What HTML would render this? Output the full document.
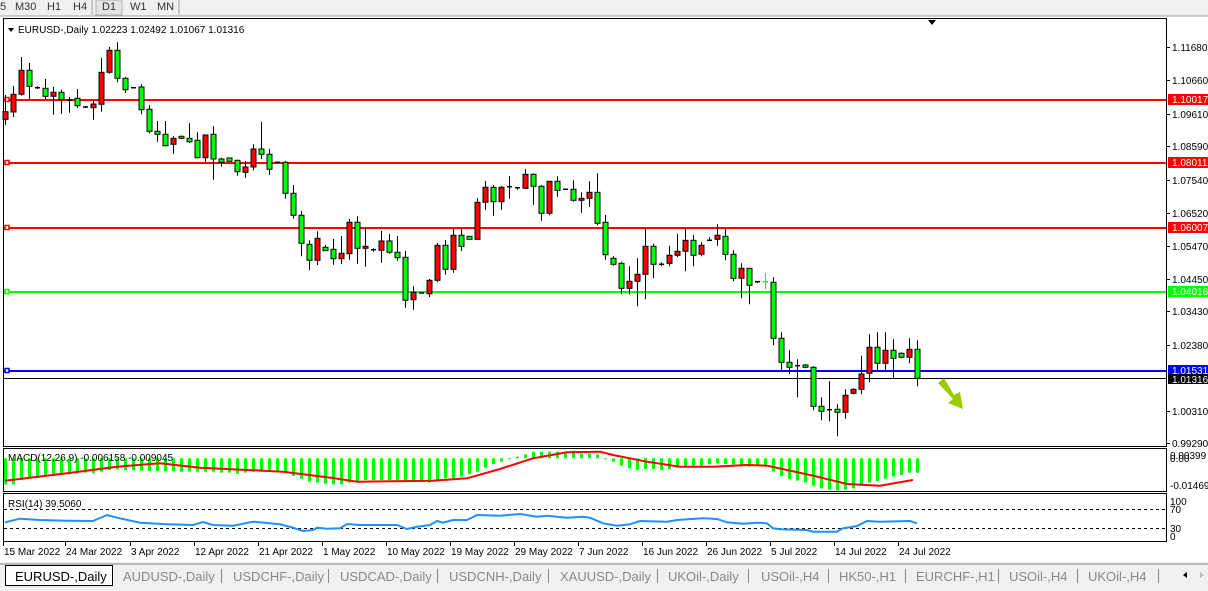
<!DOCTYPE html>
<html><head><meta charset="utf-8"><style>
body{margin:0;width:1208px;height:591px;overflow:hidden;background:#fff;font-family:"Liberation Sans",Arial,sans-serif;}
svg{position:absolute;left:0;top:0}
</style></head><body>
<svg id="s" width="1208" height="591" xmlns="http://www.w3.org/2000/svg" font-family="Liberation Sans, Arial, sans-serif">
<rect x="0" y="0" width="1208" height="16" fill="#f0f0f0"/>
<line x1="0" y1="16" x2="1208" y2="16" stroke="#a0a0a0"/>
<rect x="96" y="0" width="26" height="15" fill="#e4e4e4" stroke="#b0b0b0"/>
<line x1="92" y1="0" x2="92" y2="15" stroke="#a0a0a0"/>
<line x1="179" y1="0" x2="179" y2="15" stroke="#a0a0a0"/>
<g font-size="11" fill="#333">
<text x="0" y="10">5</text><text x="15" y="10">M30</text><text x="47" y="10">H1</text><text x="73" y="10">H4</text>
<text x="102" y="10">D1</text><text x="130" y="10">W1</text><text x="157" y="10">MN</text></g>
<rect x="0" y="17" width="1208" height="530" fill="#fff"/>
<rect x="3.5" y="18.5" width="1163" height="428" fill="none" stroke="#000"/>
<rect x="3.5" y="448.5" width="1163" height="43" fill="none" stroke="#000"/>
<rect x="3.5" y="493.5" width="1163" height="48" fill="none" stroke="#000"/>
<polygon points="928,20 936,20 932,25" fill="#000"/>
<g id="lines"></g>
<g id="candles"></g>
<g id="macd"></g>
<polygon points="938,383 944,378 954,395 960,392 963,409 948,403 953,399" fill="#99cc00"/>
<g font-size="10" fill="#000">
<polygon points="8,28 14,28 11,32" fill="#000"/>
<text x="18" y="33">EURUSD-,Daily  1.02223 1.02492 1.01067 1.01316</text>
<text x="8" y="461">MACD(12,26,9) -0.006158 -0.009045</text>
<text x="8" y="507">RSI(14) 39.5060</text>
</g>
<g font-size="10" fill="#000" id="axis">
<text x="1172" y="51">1.11680</text><text x="1172" y="84">1.10660</text><text x="1172" y="118">1.09610</text>
<text x="1172" y="150">1.08590</text><text x="1172" y="184">1.07540</text><text x="1172" y="217">1.06520</text>
<text x="1172" y="250">1.05470</text><text x="1172" y="283">1.04450</text><text x="1172" y="315">1.03430</text>
<text x="1172" y="349">1.02380</text><text x="1172" y="415">1.00310</text><text x="1172" y="447">0.99290</text>
<text x="1170" y="459">0.00399</text><text x="1170" y="462">0.00</text><text x="1170" y="489">-0.014693</text>
<text x="1170" y="505">100</text><text x="1170" y="513">70</text><text x="1170" y="532">30</text><text x="1170" y="540">0</text>
</g>
<g id="labels" font-size="10" fill="#fff">
<rect x="1168" y="94" width="40" height="11" fill="#ff0000"/><text x="1172" y="103">1.10017</text>
<rect x="1168" y="157" width="40" height="11" fill="#ff0000"/><text x="1172" y="166">1.08011</text>
<rect x="1168" y="222" width="40" height="11" fill="#ff0000"/><text x="1172" y="231">1.06007</text>
<rect x="1168" y="286" width="40" height="11" fill="#00ff00"/><text x="1172" y="295">1.04016</text>
<rect x="1168" y="365" width="40" height="11" fill="#0000ff"/><text x="1172" y="374">1.01531</text>
<rect x="1168" y="374" width="40" height="10" fill="#000"/><text x="1172" y="383">1.01316</text>
</g>
<g font-size="10" fill="#000">
<text x="4" y="555">15 Mar 2022</text><text x="66" y="555">24 Mar 2022</text><text x="131" y="555">3 Apr 2022</text>
<text x="195" y="555">12 Apr 2022</text><text x="259" y="555">21 Apr 2022</text><text x="323" y="555">1 May 2022</text>
<text x="387" y="555">10 May 2022</text><text x="451" y="555">19 May 2022</text><text x="515" y="555">29 May 2022</text>
<text x="579" y="555">7 Jun 2022</text><text x="643" y="555">16 Jun 2022</text><text x="707" y="555">26 Jun 2022</text>
<text x="771" y="555">5 Jul 2022</text><text x="835" y="555">14 Jul 2022</text><text x="899" y="555">24 Jul 2022</text>
</g>
<g id="ticks" stroke="#000"></g>
<rect x="0" y="562" width="1208" height="29" fill="#f0f0f0"/>
<line x1="0" y1="564" x2="1208" y2="564" stroke="#808080"/>
<rect x="5.5" y="565.5" width="107" height="20" fill="#fff" stroke="#000"/>
<g font-size="13" fill="#000"><text x="15" y="581">EURUSD-,Daily</text></g>
<g font-size="13" fill="#888">
<text x="123" y="581">AUDUSD-,Daily</text><text x="233" y="581">USDCHF-,Daily</text><text x="340" y="581">USDCAD-,Daily</text>
<text x="449" y="581">USDCNH-,Daily</text><text x="560" y="581">XAUUSD-,Daily</text><text x="668" y="581">UKOil-,Daily</text>
<text x="761" y="581">USOil-,H4</text><text x="839" y="581">HK50-,H1</text><text x="916" y="581">EURCHF-,H1</text>
<text x="1009" y="581">USOil-,H4</text><text x="1088" y="581">UKOil-,H4</text>
</g>
<g stroke="#888" id="seps"></g>
<polygon points="1183,575 1187,572 1187,578" fill="#000"/><polygon points="1200,572 1204,575 1200,578" fill="#bbb"/>
</svg>
<script>
var NS="http://www.w3.org/2000/svg";
function el(p,t,a){var e=document.createElementNS(NS,t);for(var k in a)e.setAttribute(k,a[k]);document.getElementById(p).appendChild(e);return e;}
[221,328,437,548,657,748,828,905,998,1077,1158].forEach(function(x){el('seps','line',{x1:x+.5,y1:569,x2:x+.5,y2:583});});
[3,65,130,194,258,322,386,450,514,578,642,706,770,834,898].forEach(function(x){el('ticks','line',{x1:x+.5,y1:542,x2:x+.5,y2:546});});
[47,80,114,146,180,213,246,279,311,345,411,443].forEach(function(y){el('ticks','line',{x1:1166,y1:y+.5,x2:1170,y2:y+.5});});
// horizontal lines
[[100,'#ff0000'],[163,'#ff0000'],[228,'#ff0000'],[292,'#00ff00'],[371,'#0000ff']].forEach(function(a){
 el('lines','line',{x1:4,y1:a[0],x2:1166,y2:a[0],stroke:a[1],'stroke-width':2});
 el('lines','rect',{x:5,y:a[0]-2.5,width:4,height:4,fill:'#fff',stroke:a[1],'stroke-width':1.5});
});
el('lines','line',{x1:4,y1:378.5,x2:1166,y2:378.5,stroke:'#000','stroke-width':1});
el('lines','line',{x1:4,y1:509.5,x2:1166,y2:509.5,stroke:'#000','stroke-dasharray':'3,3'});
el('lines','line',{x1:4,y1:528.5,x2:1166,y2:528.5,stroke:'#000','stroke-dasharray':'3,3'});
var C=[
[111.7,119.3,95,125,'r'],[94.3,112,86,117,'r'],[70.3,94.3,57,95.7,'r'],[70.3,86.3,63,99,'g'],[87.7,87.7,86.3,89,'d'],
[88.3,96.3,79,99,'g'],[92.3,96.3,87,114.7,'r'],[92.3,99.7,89.7,113.7,'g'],[100,100,97,112.7,'d'],[98.3,105.7,89,107.7,'g'],
[107,107,106,108,'d'],[104,107.7,101,119.7,'r'],[72.3,104.3,57.7,111.7,'r'],[50.3,72.3,47,73.7,'r'],[50.3,78.3,42.3,82.3,'g'],
[78.3,89.7,77,93,'g'],[87.7,87.7,87,88.3,'d'],[87,109.7,84.3,114.3,'g'],[109.3,131.3,105,133.3,'g'],[131.3,134.3,121,141.7,'g'],
[134.3,145.7,121,146.3,'g'],[138.3,144.3,136.3,153.7,'r'],[136.3,138.3,135.5,139,'g'],[138.3,141.7,123.3,143,'g'],[140.3,157.7,132.3,158.3,'g'],
[135,157.7,134.3,162.7,'r'],[134.3,159,126.3,179.7,'g'],[159,162.3,157.7,166.7,'g'],[158,161.3,158,161.3,'g'],[160.3,171.7,159.7,175.7,'g'],
[167,172.3,161,177.7,'r'],[149,167,144.3,170.3,'r'],[149,154.3,121.7,159,'g'],[154.3,169.3,149,175,'g'],[162.3,162.3,161.5,163,'d'],
[162.3,193.3,161,198.7,'g'],[193.3,215.3,185,218.7,'g'],[215.3,243.3,211,256.3,'g'],[244.3,260.3,240.3,270.3,'g'],[238.3,260.3,231.3,265,'r'],
[247.3,250.7,245,250.7,'g'],[249.3,258.7,239,264.7,'g'],[253.3,258.7,236,264,'r'],[222.3,253.7,219,259.7,'r'],[222.3,248.3,216.3,263.7,'g'],
[246.3,248.3,227.7,266.7,'r'],[249.7,249.7,248.3,251.7,'d'],[241,250.3,231,262.7,'r'],[241,252.3,234,253.7,'g'],[252.3,257.7,236,260.7,'g'],
[257.3,300.3,251,307.7,'g'],[292.3,299.7,286.3,309.7,'r'],[293,293,293,293,'d'],[280.3,293.7,279,297,'r'],[245.3,280.3,243,282.3,'r'],
[245.3,269.3,240,274.7,'g'],[235.3,269.3,229,272.7,'r'],[235.3,246.3,229,251,'g'],[236.3,239.3,236.3,239.3,'g'],[202.3,239.3,198.3,239.3,'r'],
[187.3,202.3,181,209.7,'r'],[187.3,201.7,185,215.7,'g'],[187.3,201.7,186,209.7,'r'],[186.7,186.7,176.3,198.7,'d'],[187.7,187.7,187,189.7,'d'],
[174.3,188.3,169.3,188.3,'r'],[174.3,186.3,173.3,204.7,'g'],[186.3,213.3,185,220.7,'g'],[181.3,213.3,181.3,215.3,'r'],[181.3,190.3,176.3,196.7,'g'],
[189.3,189.3,189.3,189.3,'d'],[189.3,200.3,180.3,201.7,'g'],[198.3,200.3,192.3,212.7,'r'],[192.3,198.3,181.3,207,'r'],[192.3,223.3,173.3,225.3,'g'],
[222.3,254.7,215,259.7,'g'],[258.3,264.3,256.3,265.7,'g'],[263.3,288.3,261.7,293.7,'g'],[281.3,288.3,266.3,294.3,'r'],[274.3,281.3,258.3,306.3,'r'],
[246.3,274.3,228.3,299.3,'r'],[246.3,264.3,243.7,278.3,'g'],[264.3,264.3,262.3,266.3,'d'],[255.3,263.3,245.7,266.3,'r'],[251.3,255.3,233.7,257.3,'r'],
[240.3,251.3,228.3,271.3,'r'],[240.3,255.3,235,266.3,'g'],[245.3,254.3,242.3,256.3,'r'],[240.3,240.3,237.3,240.3,'d'],[235.3,239.3,224.3,245.7,'r'],
[236.3,254.3,229,260.3,'g'],[254.3,278.3,250.3,281.3,'g'],[268.3,278.3,263.3,298.3,'r'],[268.3,285.3,268.3,304.3,'g'],[281.7,281.7,280.7,283,'d'],
[281.7,281.7,273.3,289.3,'L'],[282.3,338.3,277.3,345.3,'g'],[338.3,362.3,332.3,370,'g'],[362.3,367.3,350.3,374.3,'g'],[365.7,365.7,359.3,397.3,'d'],
[365,367.3,364,368.3,'g'],[367.3,406.3,366.3,410.3,'g'],[406.3,411.3,397.3,420.3,'g'],[409.7,409.7,381.3,421.3,'d'],[409.3,412.3,404.3,436.3,'g'],
[395.3,412.3,389.3,418.7,'r'],[389.3,393.3,388.3,394.3,'r'],[374,389.3,355.7,394.3,'r'],[347.3,373.3,334.3,382.3,'r'],[347.3,363.3,332.3,370.3,'g'],
[350.3,363.3,332.3,370.3,'r'],[350.3,358.3,339.3,379.3,'g'],[353.3,357.3,352.3,358.3,'g'],[349.3,357.3,338.3,363.3,'r'],[349.3,378.3,340.3,386.3,'g']
];
C.forEach(function(c,i){
 var x=Math.round(4.7+8*i)+.5;
 var col=c[4]=='L'?'#00ff00':'#000';
 el('candles','line',{x1:x,y1:c[2],x2:x,y2:c[3],stroke:col,'stroke-width':1});
 if(c[4]=='d'||c[4]=='L'){el('candles','line',{x1:x-2.5,y1:c[0],x2:x+2.5,y2:c[0],stroke:col,'stroke-width':1.5});}
 else{var h=Math.max(c[1]-c[0],2);el('candles','rect',{x:x-2.5,y:c[0],width:5,height:h,fill:c[4]=='r'?'#ff0000':'#00ff00',stroke:'#000','stroke-width':1});}
});
// MACD histogram (zoom z, y=445+z/3; zero z=40)
var H=[118,118,105,100,97,90,90,85,88,85,83,85,80,75,73,75,76,77,78,78,79,79,80,80,80,
80,80,83,83,87,83,80,80,80,80,83,93,101,110,113,116,118,118,113,110,105,105,105,105,105,105,110,110,113,105,100,100,95,87,80,68,57,50,42,35,28,20,20,20,20,20,17,25,25,28,41,
50,62,70,75,72,72,75,72,68,65,62,62,58,55,57,58,62,65,62,65,80,93,102,107,113,122,130,134,137,134,130,122,113,108,101,95,90,83,83];
H.forEach(function(z,i){var x=Math.round(4.7+8*i)-1;var y0=458.3,y1=445+z/3;
 el('macd','rect',{x:x,y:Math.min(y0,y1),width:3,height:Math.max(Math.abs(y1-y0),1),fill:'#00ff00'});});
var sig=[[5,480.7],[67,473.3],[117,466.7],[160,463.3],[200,467.7],[283,471.7],[333,478],[357,481.7],[433,480.7],[467,478.3],[500,469],[533,458.3],[567,452.3],[600,451.7],[613,455],[647,461.7],[680,466.7],[713,466.7],[747,465],[767,465.7],[787,470],[813,475.7],[847,484],[880,485.7],[913,480]];
el('macd','polyline',{points:sig.map(function(p){return p.join(',')}).join(' '),fill:'none',stroke:'#ff0000','stroke-width':2});
var rsi=[[5,522.3],[20,518.7],[40,520],[67,520.7],[93,521],[107,515],[117,517.7],[140,522.7],[167,524.3],[193,525],[203,522],[213,525],[233,525.7],[253,521.7],[280,524.3],[293,527.7],[303,531],[313,530],[317,527.7],[327,528.7],[340,528.3],[347,524],[360,525],[397,525],[407,529],[417,526.7],[430,525],[437,521],[443,522.7],[453,520],[467,520],[477,515],[500,515.7],[520,514],[537,516.7],[547,515.7],[567,517.7],[583,516.7],[590,517.7],[603,523.3],[617,525.7],[630,524.3],[640,521],[667,521.7],[677,520],[703,518.3],[717,519],[727,522.3],[743,523.7],[757,522.7],[767,523.3],[773,528.3],[780,529.3],[807,530],[813,531.7],[837,531.7],[843,528.3],[857,526],[867,521],[880,521.7],[910,521],[917,523.3]];
el('macd','polyline',{points:rsi.map(function(p){return p.join(',')}).join(' '),fill:'none',stroke:'#1e90ff','stroke-width':2});
</script>
</body></html>
